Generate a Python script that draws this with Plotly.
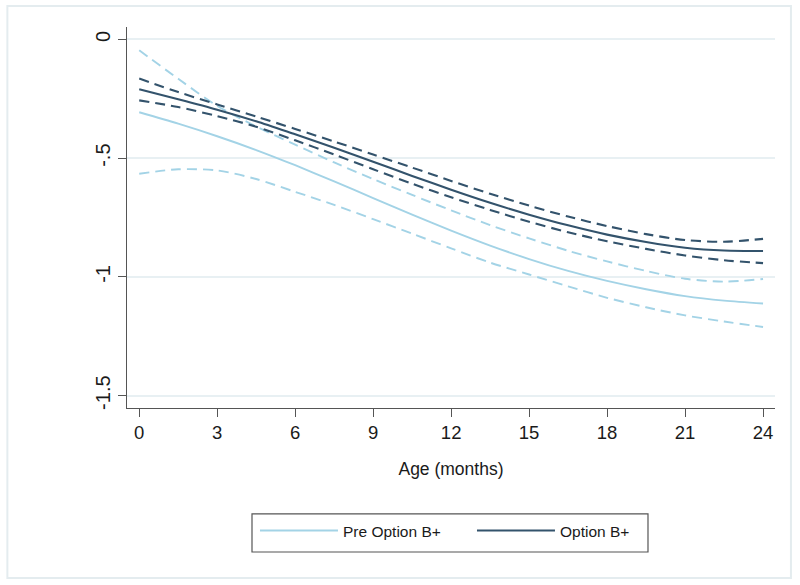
import plotly.graph_objects as go

months = [0, 1.5, 3, 4.5, 6, 7.5, 9, 10.5, 12, 13.5, 15, 16.5, 18, 19.5, 21, 22.5, 24]

pre_mean = [-0.307, -0.355, -0.408, -0.466, -0.530, -0.598, -0.668, -0.738, -0.805,
            -0.868, -0.925, -0.975, -1.017, -1.052, -1.081, -1.100, -1.112]
pre_upper = [-0.046, -0.166, -0.280, -0.367, -0.443, -0.518, -0.588, -0.655, -0.720,
             -0.782, -0.838, -0.890, -0.935, -0.975, -1.008, -1.020, -1.009]
pre_lower = [-0.566, -0.547, -0.552, -0.588, -0.642, -0.697, -0.757, -0.818, -0.880,
             -0.940, -0.990, -1.040, -1.088, -1.128, -1.162, -1.188, -1.211]

bplus_mean = [-0.210, -0.252, -0.296, -0.345, -0.400, -0.456, -0.515, -0.575, -0.633,
              -0.688, -0.738, -0.783, -0.822, -0.853, -0.877, -0.889, -0.891]
bplus_upper = [-0.165, -0.222, -0.274, -0.325, -0.377, -0.430, -0.485, -0.540, -0.596,
               -0.650, -0.700, -0.746, -0.786, -0.820, -0.845, -0.852, -0.840]
bplus_lower = [-0.257, -0.285, -0.323, -0.368, -0.425, -0.485, -0.547, -0.608, -0.665,
               -0.718, -0.768, -0.812, -0.850, -0.882, -0.910, -0.930, -0.942]

x_ticks = [0, 3, 6, 9, 12, 15, 18, 21, 24]
y_ticks = [0, -0.5, -1, -1.5]
y_tick_labels = ["0", "-.5", "-1", "-1.5"]

LIGHT = "#a3d3e6"
DARK = "#33536c"
DASH = "10px,6px"

fig = go.Figure()

def add(y, color, dash, name=None, show=False, width=1.9):
    fig.add_trace(go.Scatter(
        x=months, y=y, mode="lines", name=name, showlegend=show,
        line=dict(color=color, width=width, dash=dash, shape="spline", smoothing=0.8),
        hoverinfo="skip"))

add(pre_upper, LIGHT, DASH)
add(pre_lower, LIGHT, DASH)
add(bplus_upper, DARK, DASH, width=2.1)
add(bplus_lower, DARK, DASH, width=2.1)
add(pre_mean, LIGHT, "solid", "Pre Option B+", True)
add(bplus_mean, DARK, "solid", "Option B+", True, width=2.1)

font = "Liberation Sans, Arial, sans-serif"

fig.update_layout(
    width=800, height=585,
    margin=dict(l=127, r=25, t=27, b=177),
    paper_bgcolor="white", plot_bgcolor="white",
    font=dict(family=font, color="#1a1a1a", size=18),
    xaxis=dict(range=[-0.47, 24.46], tickvals=x_ticks, ticks="outside", ticklen=8,
               tickcolor="#555", showline=True, linecolor="#555", linewidth=1.3,
               showgrid=False, zeroline=False, tickfont=dict(size=18.5),
               title=dict(text="Age (months)", font=dict(size=17.5), standoff=20)),
    yaxis=dict(range=[-1.552, 0.052], tickvals=y_ticks, ticktext=y_tick_labels,
               ticks="outside", ticklen=8, tickcolor="#555", tickangle=-90,
               showline=True, linecolor="#555", linewidth=1.3,
               showgrid=True, gridcolor="#e8f0f3", gridwidth=1.5, zeroline=False,
               tickfont=dict(size=20)),
    legend=dict(orientation="h", x=0.1975, xanchor="left", y=-0.278, yanchor="top",
                borderwidth=0, bgcolor="rgba(0,0,0,0)",
                font=dict(size=15.5, color="#1a1a1a"), itemwidth=78,
                entrywidth=124, entrywidthmode="pixels"),
    shapes=[
        dict(type="rect", xref="paper", yref="paper",
             x0=-0.1846, x1=1.0246, y0=-0.4462, y1=1.0551,
             line=dict(color="#e4ecef", width=2), layer="below"),
        dict(type="rect", xref="paper", yref="paper",
             x0=0.1929, x1=0.804, y0=-0.378, y1=-0.278,
             line=dict(color="#555", width=1.2), layer="below"),
    ],
)

fig.write_html("out.html", config={"displayModeBar": False},
               post_script="document.body.style.margin='0px';")
